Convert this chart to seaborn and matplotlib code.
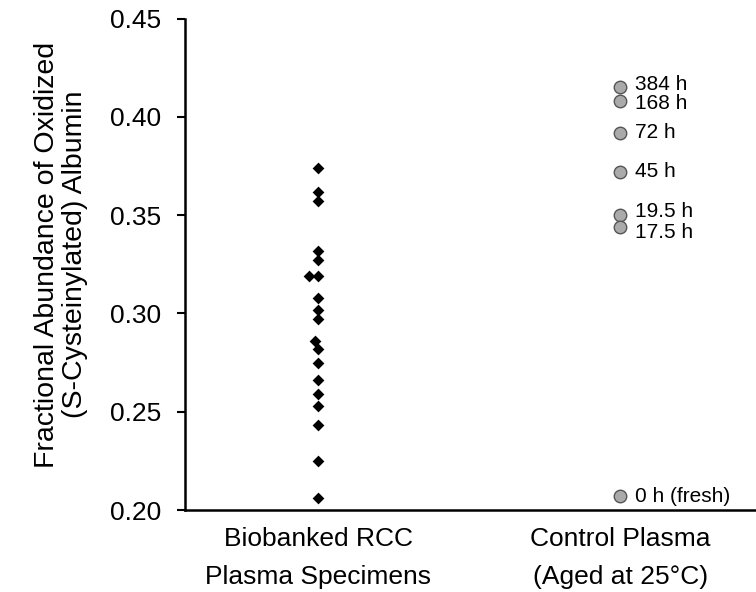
import pandas as pd
import numpy as np
import matplotlib
matplotlib.use("Agg")
import matplotlib.pyplot as plt
import seaborn as sns

# values
groups = ["Biobanked RCC\nPlasma Specimens", "Control Plasma\n(Aged at 25°C)"]
rcc_values = [0.374, 0.362, 0.357, 0.332, 0.327, 0.319, 0.319, 0.308, 0.302, 0.297,
              0.286, 0.282, 0.275, 0.266, 0.259, 0.253, 0.243, 0.225, 0.206]
control_labels = ["384 h", "168 h", "72 h", "45 h", "19.5 h", "17.5 h", "0 h (fresh)"]
control_values = [0.415, 0.408, 0.392, 0.372, 0.350, 0.344, 0.207]
y_ticks = [0.20, 0.25, 0.30, 0.35, 0.40, 0.45]

# small vertical nudges of the labels so they don't collide (points)
label_dy = {"384 h": 2, "168 h": -2, "19.5 h": 3, "17.5 h": -4}

df_rcc = pd.DataFrame({"group": groups[0], "value": rcc_values})
df_ctrl = pd.DataFrame({"group": groups[1], "value": control_values, "hours": control_labels})

sns.set_style("ticks")
plt.rcParams["font.family"] = ["Liberation Sans", "DejaVu Sans"]
plt.rcParams["text.color"] = "black"
plt.rcParams["xtick.color"] = "black"
plt.rcParams["ytick.color"] = "black"
plt.rcParams["axes.labelcolor"] = "black"
plt.rcParams["axes.edgecolor"] = "black"

fig = plt.figure(figsize=(7.56, 5.92), dpi=100)
ax = fig.add_axes([0.245, 0.1385, 0.755, 0.83])

sns.swarmplot(data=df_rcc, x="group", y="value", order=groups, ax=ax,
              color="black", marker="D", size=6, linewidth=0)
sns.stripplot(data=df_ctrl, x="group", y="value", order=groups, ax=ax,
              jitter=False, color="#aaaaaa", size=9, linewidth=1, edgecolor="#555555")

for lab, v in zip(control_labels, control_values):
    ax.annotate(lab, xy=(1, v), xytext=(11, label_dy.get(lab, 0)),
                textcoords="offset points", va="center", ha="left", fontsize=15)

ax.set_xlim(-0.44, 1.45)
ax.set_ylim(0.20, 0.45)
ax.set_yticks(y_ticks)
ax.set_yticklabels(["%.2f" % t for t in y_ticks])
ax.set_xlabel("")
ax.set_ylabel("Fractional Abundance of Oxidized\n(S-Cysteinylated) Albumin",
              fontsize=20.5, linespacing=1.1)
ax.yaxis.set_label_coords(-0.17, 0.52)
ax.tick_params(axis="y", labelsize=19, length=6, width=1.5, pad=11, direction="out")
ax.tick_params(axis="x", labelsize=19, length=0, pad=12)
for t in ax.get_xticklabels():
    t.set_linespacing(1.75)
for s in ["top", "right"]:
    ax.spines[s].set_visible(False)
for s in ["left", "bottom"]:
    ax.spines[s].set_linewidth(1.8)
ax.grid(False)

fig.savefig("out.png", dpi=100)
